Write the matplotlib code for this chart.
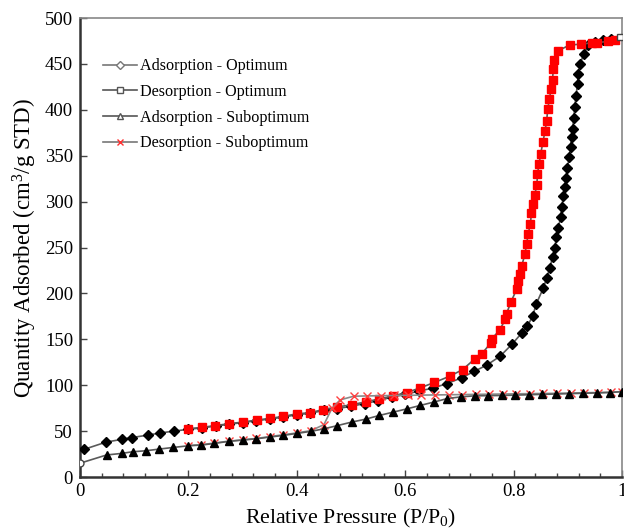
import matplotlib
matplotlib.use("Agg")
import matplotlib.pyplot as plt
from matplotlib.lines import Line2D

plt.rcParams['font.family'] = ['Liberation Serif', 'DejaVu Serif']
plt.rcParams['mathtext.default'] = 'regular'

# Adsorption - Optimum
ads_opt_x = [0.007, 0.048, 0.077, 0.096, 0.125, 0.148, 0.174, 0.2, 0.225, 0.25, 0.275, 0.30,
             0.325, 0.35, 0.375, 0.40, 0.425, 0.45, 0.475, 0.50, 0.525, 0.55, 0.575, 0.60,
             0.625, 0.652, 0.677, 0.704, 0.727, 0.75, 0.775, 0.797, 0.815, 0.825, 0.835,
             0.842, 0.855, 0.861, 0.867, 0.872, 0.876, 0.879, 0.882, 0.887, 0.889, 0.892,
             0.895, 0.897, 0.899, 0.903, 0.905, 0.907, 0.909, 0.911, 0.913, 0.915, 0.918,
             0.919, 0.923, 0.929, 0.938, 0.95, 0.965, 0.98]
ads_opt_y = [30, 38, 41, 43, 45.6, 48, 50, 52, 53.5, 55.5, 57.5, 59.3,
             61.3, 63.2, 65.3, 67.8, 69.5, 72.5, 74.5, 77, 80, 83, 87, 90,
             93.5, 97, 101.8, 108, 115, 121.7, 131.5, 144.6, 156.8, 164, 175,
             188.8, 206, 217, 228, 240, 250, 261, 271, 283, 294.6, 306.5,
             316, 326, 336.6, 349, 360, 370, 379, 391.6, 403, 415, 428,
             438.8, 450, 460.5, 470.7, 474, 476, 477]

# Desorption - Optimum
des_opt_x = [0.996, 0.987, 0.975, 0.953, 0.944, 0.924, 0.904, 0.881, 0.875, 0.873, 0.872,
             0.869, 0.866, 0.863, 0.861, 0.858, 0.854, 0.85, 0.847, 0.844, 0.843, 0.839,
             0.836, 0.833, 0.831, 0.827, 0.824, 0.821, 0.815, 0.812, 0.809, 0.806, 0.795,
             0.787, 0.785, 0.774, 0.76, 0.758, 0.741, 0.729, 0.706, 0.683, 0.654, 0.627,
             0.603, 0.578, 0.552, 0.527, 0.501, 0.475, 0.449, 0.424, 0.40, 0.375, 0.35,
             0.326, 0.30, 0.275, 0.249, 0.225, 0.2]
des_opt_y = [479, 476, 474.6, 473, 473, 471.4, 470.7, 464, 454, 444, 433,
             422.5, 411.6, 400.8, 388, 377, 364.5, 352, 341, 330, 318, 307.6,
             297.5, 288, 276, 265, 254, 243, 230, 221, 213, 205, 190.5,
             178, 172, 159.8, 150.7, 146, 134, 129, 117, 110, 103, 97,
             92, 88.4, 85, 81.9, 78.6, 76.4, 73.5, 70, 68.8, 66, 63.8,
             62, 59.8, 58, 56, 54, 52.5]

# Adsorption - Suboptimum
ads_sub_x = [0.0, 0.049, 0.077, 0.097, 0.122, 0.146, 0.172, 0.2, 0.224, 0.248, 0.274, 0.30,
             0.325, 0.35, 0.375, 0.40, 0.426, 0.45, 0.475, 0.501, 0.527, 0.552, 0.578,
             0.603, 0.628, 0.654, 0.678, 0.703, 0.728, 0.753, 0.778, 0.803, 0.828, 0.853,
             0.878, 0.903, 0.928, 0.953, 0.978, 1.0]
ads_sub_y = [15, 24, 25.7, 27.5, 28.6, 30.4, 32.2, 34, 34.8, 36.6, 38.8, 40.2,
             41.6, 43.5, 45.3, 47.5, 49.7, 52.5, 56, 59.8, 63, 67, 70.7,
             74.2, 78, 81.8, 85.5, 87.3, 88.4, 88.6, 88.8, 89.2, 89.6, 90,
             90.4, 90.8, 91.2, 91.6, 92, 93]

# Desorption - Suboptimum
des_sub_x = [1.0, 0.98, 0.955, 0.93, 0.905, 0.88, 0.855, 0.83, 0.805, 0.78, 0.755, 0.73,
             0.705, 0.68, 0.655, 0.63, 0.605, 0.58, 0.555, 0.53, 0.505, 0.48, 0.465,
             0.45, 0.426, 0.40, 0.375, 0.35, 0.325, 0.30, 0.274, 0.248, 0.224, 0.2]
des_sub_y = [93, 92.5, 92, 91.8, 91.5, 91.2, 91, 90.8, 90.6, 90.4, 90.2, 90,
             89.8, 89.6, 89.4, 89.2, 89, 88.8, 88.6, 88.3, 88, 84, 75,
             57, 50.5, 48, 46, 44, 42, 40.5, 39, 37, 35.2, 34.3]

x_ticks = [0, 0.2, 0.4, 0.6, 0.8, 1.0]
x_tick_labels = ['0', '0.2', '0.4', '0.6', '0.8', '1']
y_ticks = [0, 50, 100, 150, 200, 250, 300, 350, 400, 450, 500]

fig = plt.figure(figsize=(6.24, 5.28), dpi=100)
ax = fig.add_axes([80/624, 1-477/528, 542/624, 459/528])

lc = '#5a5a5a'
ax.plot(ads_opt_x, ads_opt_y, color=lc, lw=1.2, marker='D', ms=5, mfc='black', mec='black', zorder=3)
ax.plot(des_opt_x, des_opt_y, color=lc, lw=1.2, marker='s', ms=6, mfc='#ff0000', mec='#ff0000',
        markevery=list(range(1, len(des_opt_x))), zorder=4)
ax.plot(des_opt_x[:1], des_opt_y[:1], ls='none', marker='s', ms=5, mfc='white', mec='#444444', zorder=6)
ax.plot(des_sub_x, des_sub_y, color='#8a8a8a', lw=1.2, marker='x', ms=6, mew=1.0, mec='#ff4040', zorder=4)
ax.plot(ads_sub_x, ads_sub_y, color=lc, lw=1.2, marker='^', ms=6, mfc='black', mec='black',
        markevery=list(range(1, len(ads_sub_x))), zorder=5)
ax.plot(ads_sub_x[:1], ads_sub_y[:1], ls='none', marker='o', ms=5, mfc='white', mec='#444444', zorder=6)

ax.set_xlim(0, 1)
ax.set_ylim(0, 500)
ax.set_xticks(x_ticks)
ax.set_xticklabels(x_tick_labels)
ax.set_xticks([i * 0.04 for i in range(26)], minor=True)
ax.set_yticks(y_ticks)
ax.tick_params(axis='both', which='major', direction='in', length=5, width=1, labelsize=13.5, color='#444444')
ax.tick_params(axis='x', which='minor', direction='in', length=3, width=1, color='#444444')
ax.tick_params(axis='x', pad=4)
ax.tick_params(axis='y', pad=5)
for s in ['left', 'bottom']:
    ax.spines[s].set_color('#333333')
    ax.spines[s].set_linewidth(1.8)
for s in ['top', 'right']:
    ax.spines[s].set_color('#888888')
    ax.spines[s].set_linewidth(1.2)

ax.set_xlabel('Relative Pressure (P/P$_0$)', fontsize=15.7, labelpad=5)
ax.set_ylabel('Quantity Adsorbed (cm$^3$/g STD)', fontsize=16.5, labelpad=4)

handles = [
    Line2D([], [], color='#777777', lw=1.2, marker='D', ms=4, mfc='white', mec='#777777'),
    Line2D([], [], color='#555555', lw=1.2, marker='s', ms=5, mfc='white', mec='#555555'),
    Line2D([], [], color='#555555', lw=1.2, marker='^', ms=5, mfc='white', mec='#555555'),
    Line2D([], [], color='#777777', lw=1.2, marker='x', ms=5, mec='#ff3030'),
]
labels = ['Adsorption - Optimum', 'Desorption - Optimum', 'Adsorption - Suboptimum', 'Desorption - Suboptimum']
ax.legend(handles, labels, loc='upper left', bbox_to_anchor=(0.03, 0.926), frameon=False,
          fontsize=11.6, handlelength=2.1, handletextpad=0.2, labelspacing=0.6, borderaxespad=0)

fig.savefig('out.png', dpi=100)
